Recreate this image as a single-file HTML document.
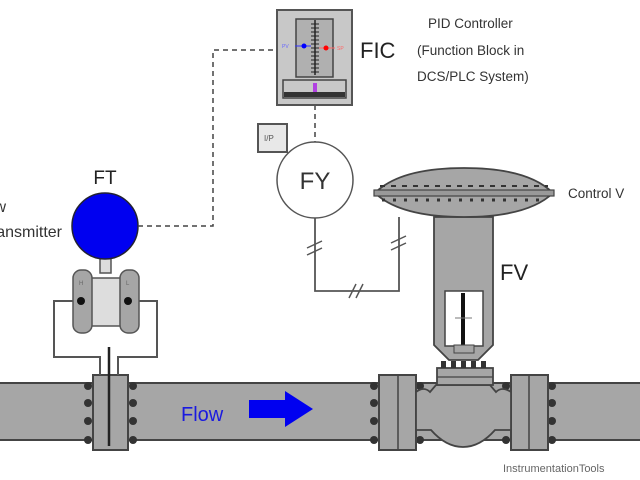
<!DOCTYPE html>
<html><head><style>body{margin:0;background:#fff}svg{display:block}</style></head>
<body>
<svg width="640" height="480" viewBox="0 0 640 480" xmlns="http://www.w3.org/2000/svg" font-family="Liberation Sans, sans-serif">
<rect x="-2" y="383" width="650" height="57" fill="#a6a6a6" stroke="#444" stroke-width="2"/>
<g fill="#333">
<circle cx="88" cy="386" r="4"/><circle cx="88" cy="403" r="4"/><circle cx="88" cy="421" r="4"/><circle cx="88" cy="440" r="4"/>
<circle cx="133" cy="386" r="4"/><circle cx="133" cy="403" r="4"/><circle cx="133" cy="421" r="4"/><circle cx="133" cy="440" r="4"/>
</g>
<rect x="93" y="375" width="35" height="75" fill="#a6a6a6" stroke="#444" stroke-width="2"/>
<line x1="109" y1="347" x2="109" y2="446" stroke="#222" stroke-width="2.5"/>
<polyline points="81,301 54,301 54,357 100,357 100,375" fill="none" stroke="#555" stroke-width="2"/>
<polyline points="128,301 157,301 157,357 118,357 118,375" fill="none" stroke="#555" stroke-width="2"/>
<rect x="100" y="257" width="11" height="16" fill="#ddd" stroke="#555" stroke-width="1.5"/>
<rect x="91" y="278" width="30" height="48" fill="#ddd" stroke="#555" stroke-width="1.5"/>
<rect x="73" y="270" width="19" height="63" rx="8" fill="#a6a6a6" stroke="#555" stroke-width="1.5"/>
<rect x="120" y="270" width="19" height="63" rx="8" fill="#a6a6a6" stroke="#555" stroke-width="1.5"/>
<text x="79" y="285" font-size="6" fill="#666">H</text><text x="126" y="285" font-size="6" fill="#666">L</text>
<circle cx="81" cy="301" r="4" fill="#111"/><circle cx="128" cy="301" r="4" fill="#111"/>
<ellipse cx="105" cy="226" rx="33" ry="33" fill="#0000f0" stroke="#223" stroke-width="1.5"/>
<text x="105" y="184" font-size="19" text-anchor="middle" fill="#222">FT</text>
<text x="6" y="212" font-size="16" text-anchor="end" fill="#333">Flow</text>
<text x="62" y="237" font-size="16" text-anchor="end" fill="#333">Transmitter</text>
<polyline points="138,226 213,226 213,50 277,50" fill="none" stroke="#444" stroke-width="1.5" stroke-dasharray="5,4"/>
<line x1="315" y1="105" x2="315" y2="142" stroke="#444" stroke-width="1.5" stroke-dasharray="5,4"/>
<rect x="277" y="10" width="75" height="95" fill="#c8c8c8" stroke="#555" stroke-width="2"/>
<rect x="296" y="19" width="37" height="58" fill="#b0b0b0" stroke="#444" stroke-width="1.5"/>
<line x1="315" y1="20" x2="315" y2="75" stroke="#222" stroke-width="1.5"/>
<g stroke="#222" stroke-width="1">
<line x1="311" y1="24" x2="319" y2="24"/><line x1="311" y1="28" x2="319" y2="28"/><line x1="311" y1="32" x2="319" y2="32"/><line x1="311" y1="36" x2="319" y2="36"/><line x1="311" y1="40" x2="319" y2="40"/><line x1="311" y1="44" x2="319" y2="44"/><line x1="311" y1="48" x2="319" y2="48"/><line x1="311" y1="52" x2="319" y2="52"/><line x1="311" y1="56" x2="319" y2="56"/><line x1="311" y1="60" x2="319" y2="60"/><line x1="311" y1="64" x2="319" y2="64"/><line x1="311" y1="68" x2="319" y2="68"/><line x1="311" y1="72" x2="319" y2="72"/>
</g>
<line x1="295" y1="46" x2="311" y2="46" stroke="#33f" stroke-width="1"/><circle cx="304" cy="46" r="2.5" fill="#00f"/>
<text x="282" y="48" font-size="5" fill="#66f">PV</text>
<line x1="319" y1="48" x2="335" y2="48" stroke="#f66" stroke-width="1"/><circle cx="326" cy="48" r="2.5" fill="#f00"/>
<text x="337" y="50" font-size="5" fill="#f66">SP</text>
<rect x="283" y="80" width="63" height="18" fill="#c8c8c8" stroke="#444" stroke-width="1.5"/>
<rect x="284" y="92" width="61" height="5" fill="#333"/>
<rect x="313" y="83" width="4" height="9" fill="#b040e0"/>
<text x="360" y="58" font-size="22" fill="#222">FIC</text>
<text x="428" y="28" font-size="13.5" fill="#333">PID Controller</text>
<text x="417" y="55" font-size="13.5" fill="#333">(Function Block in</text>
<text x="417" y="81" font-size="13.5" fill="#333">DCS/PLC System)</text>
<rect x="258" y="124" width="29" height="28" fill="#e8e8e8" stroke="#555" stroke-width="2"/>
<text x="264" y="141" font-size="8" fill="#555">I/P</text>
<circle cx="315" cy="180" r="38" fill="#fff" stroke="#555" stroke-width="1.5"/>
<text x="315" y="189" font-size="24" text-anchor="middle" fill="#333">FY</text>
<polyline points="315,218 315,291 399,291 399,217" fill="none" stroke="#555" stroke-width="1.8"/>
<g stroke="#555" stroke-width="1.5">
<line x1="307" y1="248" x2="322" y2="241"/><line x1="307" y1="255" x2="322" y2="248"/>
<line x1="391" y1="243" x2="406" y2="236"/><line x1="391" y1="250" x2="406" y2="243"/>
<line x1="349" y1="298" x2="356" y2="284"/><line x1="356" y1="298" x2="363" y2="284"/>
</g>
<g fill="#333">
<circle cx="374" cy="386" r="4"/><circle cx="374" cy="403" r="4"/><circle cx="374" cy="421" r="4"/><circle cx="374" cy="440" r="4"/>
<circle cx="420" cy="386" r="4"/><circle cx="420" cy="403" r="4"/><circle cx="420" cy="421" r="4"/><circle cx="420" cy="440" r="4"/>
<circle cx="506" cy="386" r="4"/><circle cx="506" cy="403" r="4"/><circle cx="506" cy="421" r="4"/><circle cx="506" cy="440" r="4"/>
<circle cx="552" cy="386" r="4"/><circle cx="552" cy="403" r="4"/><circle cx="552" cy="421" r="4"/><circle cx="552" cy="440" r="4"/>
</g>
<rect x="379" y="375" width="37" height="75" fill="#a6a6a6" stroke="#444" stroke-width="2"/>
<line x1="398" y1="375" x2="398" y2="450" stroke="#444" stroke-width="1.5"/>
<rect x="511" y="375" width="37" height="75" fill="#a6a6a6" stroke="#444" stroke-width="2"/>
<line x1="529" y1="375" x2="529" y2="450" stroke="#444" stroke-width="1.5"/>
<path d="M416,392 Q424,386 430,392 L436,385 L490,385 L496,392 Q502,386 511,392 L511,430 L495,430 Q480,447 463,447 Q446,447 431,430 L416,430 Z" fill="#a6a6a6" stroke="#444" stroke-width="1.8"/>
<rect x="437" y="368" width="56" height="17" fill="#a6a6a6" stroke="#444" stroke-width="1.8"/>
<line x1="437" y1="377" x2="493" y2="377" stroke="#444" stroke-width="1.2"/>
<g fill="#333"><rect x="441" y="361" width="5" height="7"/><rect x="451" y="361" width="5" height="7"/><rect x="461" y="361" width="5" height="7"/><rect x="471" y="361" width="5" height="7"/><rect x="481" y="361" width="5" height="7"/></g>
<path d="M434,217 L493,217 L493,345 L478,360 L449,360 L434,345 Z" fill="#a6a6a6" stroke="#444" stroke-width="1.8"/>
<rect x="445" y="291" width="38" height="55" fill="#fff" stroke="#444" stroke-width="1.5"/>
<rect x="461" y="293" width="4" height="52" fill="#111"/>
<line x1="455" y1="318" x2="472" y2="318" stroke="#777" stroke-width="1"/>
<rect x="454" y="345" width="20" height="8" fill="#a6a6a6" stroke="#444" stroke-width="1"/>
<text x="500" y="280" font-size="22" fill="#222">FV</text>
<path d="M375,193 Q400,168 464,168 Q528,168 553,193 Q528,217 464,217 Q400,217 375,193 Z" fill="#a6a6a6" stroke="#444" stroke-width="1.8"/>
<rect x="374" y="190" width="180" height="6" fill="#999" stroke="#444" stroke-width="1.2"/>
<line x1="380" y1="186" x2="548" y2="186" stroke="#333" stroke-width="2" stroke-dasharray="5,6"/>
<line x1="382" y1="200" x2="546" y2="200" stroke="#333" stroke-width="3" stroke-dasharray="3,8"/>
<text x="568" y="198" font-size="13.5" fill="#333">Control V</text>
<text x="181" y="421" font-size="20" fill="#1a1ae0">Flow</text>
<path d="M249,400 L285,400 L285,391 L313,409 L285,427 L285,418 L249,418 Z" fill="#0000f0"/>
<text x="503" y="472" font-size="11" fill="#666">InstrumentationTools</text>
</svg>
</body></html>
